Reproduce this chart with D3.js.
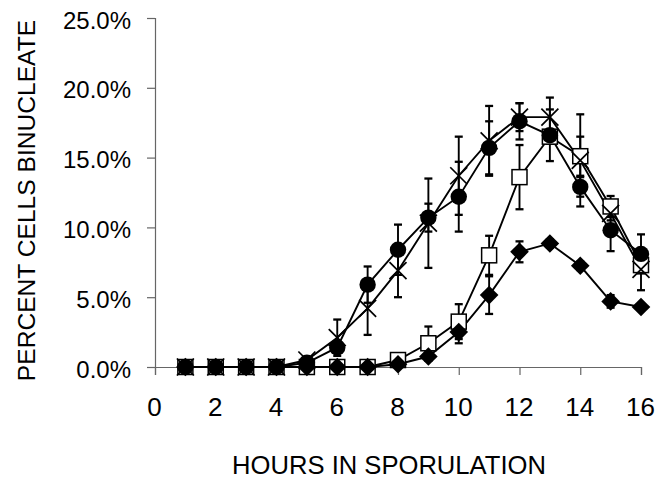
<!DOCTYPE html>
<html><head><meta charset="utf-8">
<script src="https://cdn.jsdelivr.net/npm/d3@7/dist/d3.min.js"></script>
<style>
html,body{margin:0;padding:0;background:#fff;}
svg{display:block;}
text{font-family:"Liberation Sans",Arial,sans-serif;fill:#000;}
</style></head>
<body>
<script>
const hours = [1,2,3,4,5,6,7,8,9,10,11,12,13,14,15,16];
const circleVals  = [0,0,0,0,0.3,1.4,5.9,8.4,10.7,12.2,15.7,17.6,16.6,12.9,9.8,8.1];
const circleErr   = [0,0,0,0,0,0.3,1.3,1.8,1.0,2.5,1.9,1.3,1.85,0.7,1.5,1.4];
const crossVals   = [0,0,0,0,0.5,2.1,4.2,6.9,10.3,13.7,16.2,17.9,17.9,14.8,11.0,7.0];
const crossErr    = [0,0,0,0,0.2,1.3,1.9,1.9,3.2,2.8,2.5,1.0,1.4,3.3,0.5,1.5];
const squareVals  = [0,0,0,0,0,0,0,0.5,1.7,3.25,8.0,13.6,16.5,15.1,11.5,7.3];
const squareErr   = [0,0,0,0,0,0,0,0.2,1.2,1.25,1.4,2.3,0.5,1.4,0.75,0.5];
const diamondVals = [0,0,0,0,0,0,0,0.2,0.75,2.5,5.15,8.25,8.85,7.25,4.7,4.3];
const diamondErr  = [0,0,0,0,0,0,0,0,0.3,0.8,1.35,0.75,0.3,0.3,0.45,0.2];
const xTicks = [0,2,4,6,8,10,12,14,16];
const yTicks = [0,5,10,15,20,25];
const xTitle = "HOURS IN SPORULATION";
const yTitle = "PERCENT CELLS BINUCLEATE";

const W = 667, H = 481;
const svg = d3.select("body").append("svg").attr("width", W).attr("height", H);
const x = d3.scaleLinear().domain([0,16]).range([155,641]);
const y = d3.scaleLinear().domain([0,25]).range([367,18]);

// axes
const gx = svg.append("g").attr("transform", `translate(0,${y(0)})`)
  .call(d3.axisBottom(x).tickValues(xTicks).tickSize(8).tickPadding(23).tickFormat(d3.format("d")));
const gy = svg.append("g").attr("transform", `translate(${x(0)},0)`)
  .call(d3.axisLeft(y).tickValues(yTicks).tickSize(8).tickPadding(16).tickFormat(d => d3.format(".1f")(d) + "%"));
[gx, gy].forEach(g => {
  g.select(".domain").attr("stroke", "#666").attr("stroke-width", 1.2);
  g.selectAll(".tick line").attr("stroke", "#666").attr("stroke-width", 1.2);
  g.selectAll(".tick text").attr("fill", "#000");
});
gy.selectAll(".tick text").style("font-size", "24px").attr("dy", "0.42em");
gx.selectAll(".tick text").style("font-size", "26px").attr("dx", "-1");

svg.append("text").attr("x", 389).attr("y", 474).attr("text-anchor", "middle")
  .style("font-size", "25.6px").text(xTitle);
svg.append("text").attr("transform", `translate(35,${(y(0)+y(25))/2 + 8}) rotate(-90)`)
  .attr("text-anchor", "middle").style("font-size", "24.6px").text(yTitle);

const series = [
  {vals: squareVals, err: squareErr, type: "square"},
  {vals: diamondVals, err: diamondErr, type: "diamond"},
  {vals: crossVals, err: crossErr, type: "cross"},
  {vals: circleVals, err: circleErr, type: "circle"}
];
const line = d3.line().x(d => x(d.h)).y(d => y(d.v));
const capW = 4;

series.forEach(s => {
  const data = hours.map((h,i) => ({h, v: s.vals[i], e: s.err[i]}));
  s.data = data;
  svg.append("path").datum(data).attr("d", line)
    .attr("fill", "none").attr("stroke", "#000").attr("stroke-width", 1.9);
  const eb = svg.append("g").selectAll("g").data(data.filter(d => d.e > 0)).join("g");
  eb.append("line").attr("x1", d => x(d.h)).attr("x2", d => x(d.h))
    .attr("y1", d => y(d.v + d.e)).attr("y2", d => y(d.v - d.e))
    .attr("stroke", "#000").attr("stroke-width", 1.9);
  [1,-1].forEach(sg => {
    eb.append("line").attr("x1", d => x(d.h) - capW).attr("x2", d => x(d.h) + capW)
      .attr("y1", d => y(d.v + sg*d.e)).attr("y2", d => y(d.v + sg*d.e))
      .attr("stroke", "#000").attr("stroke-width", 2.3);
  });
});

series.forEach(s => {
  const g = svg.append("g");
  const pts = g.selectAll("g").data(s.data).join("g")
    .attr("transform", d => `translate(${x(d.h)},${y(d.v)})`);
  if (s.type === "square") {
    pts.append("rect").attr("x", -7.5).attr("y", -7.5).attr("width", 15).attr("height", 15)
      .attr("fill", "#fff").attr("stroke", "#000").attr("stroke-width", 1.5);
  } else if (s.type === "diamond") {
    pts.append("path").attr("d", "M0,-9.3L9.3,0L0,9.3L-9.3,0Z").attr("fill", "#000");
  } else if (s.type === "cross") {
    pts.append("path").attr("d", "M-8.5,-8.5L8.5,8.5M-8.5,8.5L8.5,-8.5")
      .attr("stroke", "#000").attr("stroke-width", 1.7).attr("fill", "none");
  } else {
    pts.append("circle").attr("r", 8.2).attr("fill", "#000");
  }
});
</script>
</body></html>
